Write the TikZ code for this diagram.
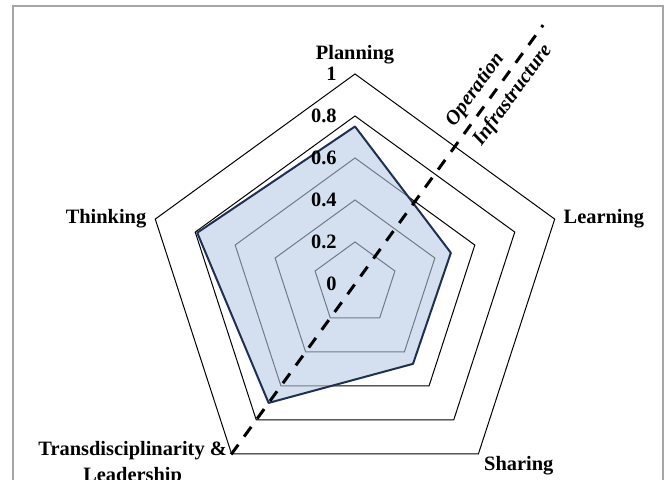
\documentclass[tikz,border=0pt]{standalone}
\usepackage{fontspec}
\setmainfont{Liberation Serif}
\usetikzlibrary{shapes.geometric,positioning}
\definecolor{radarfill}{HTML}{B8CCE4}
\definecolor{radarline}{HTML}{1F3050}
\definecolor{framegray}{HTML}{A6A6A6}
\tikzset{
  ring/.style={draw, regular polygon, regular polygon sides=5, inner sep=0pt, line width=0.5pt},
  lbl/.style={inner sep=1pt, font=\fontsize{10.2}{13}\selectfont\bfseries},
  side/.style={lbl, inner sep=3pt, font=\fontsize{10.2}{13}\selectfont\bfseries\itshape, rotate=54},
}

\begin{document}
\begin{tikzpicture}[x=1pt,y=1pt]
  \useasboundingbox (-177.5,-98) rectangle (155.5,142);
  \draw[framegray, line width=1pt] (-171,-110) -- (-171,139) -- (154,139) -- (154,-110);

  \coordinate (O) at (0,0);
  \node (r10) [ring, minimum size=210pt] at (O) {};
  \node (r8) [ring, minimum size=168pt] at (O) {};
  \node (r6) [ring, minimum size=126pt] at (O) {};
  \node (r4) [ring, minimum size=84pt] at (O) {};
  \node (r2) [ring, minimum size=42pt] at (O) {};

  \coordinate (P) at (90:78.75);
  \coordinate (L) at (18:50.4);
  \coordinate (S) at (-54:49.35);
  \coordinate (T) at (234:73.5);
  \coordinate (K) at (162:82.95);
  \filldraw[fill=radarfill, fill opacity=0.6, draw=radarline, line width=1pt, line join=round]
    (P) -- (L) -- (S) -- (T) -- (K) -- cycle;

  \node (t10) [lbl, left=8pt of r10.corner 1] {1};
  \node (t8) [lbl, left=8pt of r8.corner 1] {0.8};
  \node (t6) [lbl, left=8pt of r6.corner 1] {0.6};
  \node (t4) [lbl, left=8pt of r4.corner 1] {0.4};
  \node (t2) [lbl, left=8pt of r2.corner 1] {0.2};
  \node (t0) [lbl, left=8pt of O] {0};

  \node (plan) [lbl, above=3.5pt of r10.corner 1] {Planning};
  \node (think) [lbl, left=3pt of r10.corner 2] {Thinking};
  \node (learn) [lbl, right=3pt of r10.corner 5] {Learning};
  \node (share) [lbl, below right=0pt and 1.5pt of r10.corner 4] {Sharing};
  \node (trans) [lbl, align=center, anchor=north east, xshift=-1pt, yshift=7.5pt] at (r10.corner 3)
    {Transdisciplinarity \&\\Leadership};

  \coordinate (top) at (54:160);
  \draw[line width=1.5pt, dash pattern=on 6pt off 5pt] (r10.corner 3) -- (top)
    node[side, pos=0.732, anchor=south west] (op) {Operation}
    node[side, pos=0.732, anchor=north west] (inf) {Infrastructure};
\end{tikzpicture}
\end{document}
